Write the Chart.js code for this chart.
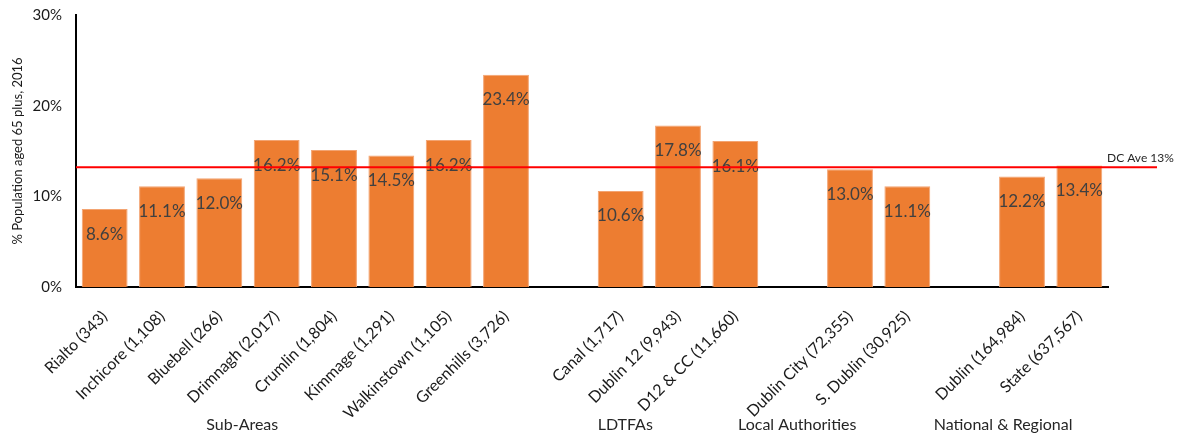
<!DOCTYPE html>
<html>
<head>
<meta charset="utf-8">
<script src="https://cdn.jsdelivr.net/npm/chart.js@4/dist/chart.umd.min.js"></script>
<style>
  html, body { margin: 0; padding: 0; background: #ffffff; }
  #wrap { width: 1183px; height: 438px; }
</style>
</head>
<body>
<div id="wrap"><canvas id="chart" width="1183" height="438"></canvas></div>
<script>
// Areas (population aged 65+ in brackets); empty strings separate the groups
const areaNames = [
  'Rialto (343)', 'Inchicore (1,108)', 'Bluebell (266)', 'Drimnagh (2,017)',
  'Crumlin (1,804)', 'Kimmage (1,291)', 'Walkinstown (1,105)', 'Greenhills (3,726)',
  '',
  'Canal (1,717)', 'Dublin 12 (9,943)', 'D12 & CC (11,660)',
  '',
  'Dublin City (72,355)', 'S. Dublin (30,925)',
  '',
  'Dublin (164,984)', 'State (637,567)'
];

// % of population aged 65 plus, 2016
const shareAged65 = [
  8.6, 11.1, 12.0, 16.2, 15.1, 14.5, 16.2, 23.4,
  null,
  10.6, 17.8, 16.1,
  null,
  13.0, 11.1,
  null,
  12.2, 13.4
];

const yTicks = [0, 10, 20, 30];

// Dublin City average
const dcAverage = 13.2;

const groupNames = ['Sub-Areas', 'LDTFAs', 'Local Authorities', 'National & Regional'];

const FONT = 'Lato, "Open Sans", sans-serif';
const TEXT = '#262626';

// Caption placement (category index each group caption is centred on)
const groupCaptionAt = [2.4, 9.08, 12.08, 15.67];

const annotate = {
  id: 'annotate',
  afterDatasetsDraw(chart) {
    const { ctx, chartArea, scales } = chart;
    const meta = chart.getDatasetMeta(0);

    // value labels inside the top of each bar
    ctx.save();
    ctx.font = '17px ' + FONT;
    ctx.fillStyle = '#404040';
    ctx.textAlign = 'center';
    ctx.textBaseline = 'middle';
    meta.data.forEach((bar, i) => {
      const v = shareAged65[i];
      if (v === null) return;
      ctx.fillText(v.toFixed(1) + '%', bar.x, bar.y + 25);
    });
    ctx.restore();

    // Dublin City average line
    const yAvg = scales.y.getPixelForValue(dcAverage);
    const lineEnd = chartArea.right + 49;
    ctx.save();
    ctx.strokeStyle = '#FF0000';
    ctx.lineWidth = 2;
    ctx.beginPath();
    ctx.moveTo(chartArea.left, yAvg);
    ctx.lineTo(lineEnd, yAvg);
    ctx.stroke();
    ctx.font = '12px ' + FONT;
    ctx.fillStyle = TEXT;
    ctx.textAlign = 'left';
    ctx.textBaseline = 'middle';
    ctx.fillText('DC Ave ' + Math.round(dcAverage) + '%', chartArea.right - 1, yAvg - 9);
    ctx.restore();

    // group captions under the category labels
    ctx.save();
    ctx.font = '16px ' + FONT;
    ctx.fillStyle = TEXT;
    ctx.textAlign = 'center';
    ctx.textBaseline = 'middle';
    groupNames.forEach((name, i) => {
      ctx.fillText(name, scales.x.getPixelForValue(groupCaptionAt[i]), 425);
    });
    ctx.restore();
  }
};

new Chart(document.getElementById('chart'), {
  type: 'bar',
  data: {
    labels: areaNames,
    datasets: [{
      data: shareAged65,
      backgroundColor: '#ED7D31',
      borderColor: '#F3A472',
      borderWidth: 1,
      categoryPercentage: 1,
      barPercentage: 0.8
    }]
  },
  options: {
    responsive: false,
    animation: false,
    devicePixelRatio: 1,
    layout: { padding: { left: 0, top: 15, right: 75, bottom: 0 } },
    plugins: {
      legend: { display: false },
      tooltip: { enabled: false }
    },
    scales: {
      x: {
        grid: { display: false, drawTicks: false },
        border: { display: true, color: '#000000', width: 2 },
        ticks: {
          autoSkip: false,
          minRotation: 45,
          maxRotation: 45,
          padding: 20,
          color: '#1a1a1a',
          font: { family: FONT, size: 16 }
        },
        afterFit(scale) { scale.height = 151; }
      },
      y: {
        min: 0,
        max: 30,
        afterBuildTicks(scale) { scale.ticks = yTicks.map(v => ({ value: v })); },
        grid: { display: false, drawTicks: false },
        border: { display: true, color: '#000000', width: 2 },
        ticks: {
          padding: 14,
          color: '#1a1a1a',
          font: { family: FONT, size: 15 },
          callback: v => v + '%'
        },
        title: {
          display: true,
          text: '% Population aged 65 plus, 2016',
          color: '#1a1a1a',
          font: { family: FONT, size: 13 },
          padding: { top: 10, bottom: 0 }
        },
        afterFit(scale) {
          scale.width = 76;
          scale.paddingTop = 0;
          scale.paddingBottom = 0;
        }
      }
    }
  },
  plugins: [annotate]
});
</script>
</body>
</html>
